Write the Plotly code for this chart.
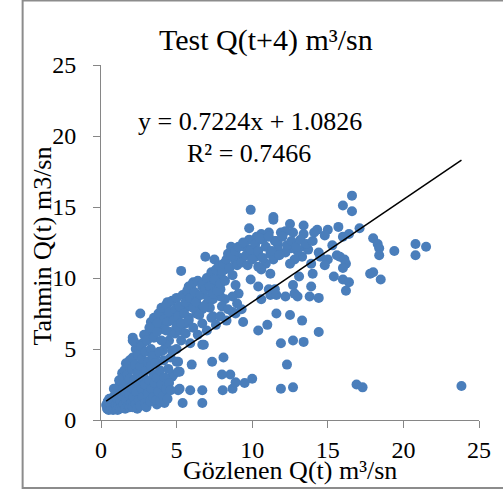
import plotly.graph_objects as go

# ---------------- data ----------------
pts_upper = [
    (16.6,15.8),(16.0,15.1),(16.6,14.7),(9.9,14.8),(11.4,14.3),(11.4,14.1),(9.8,13.5),(12.5,13.8),
    (13.4,13.7),(14.3,13.4),(15.0,13.4),(15.7,13.6),(17.1,13.5),(13.4,13.1),(14.1,13.2),(14.8,13.0),
    (16.0,12.9),(16.4,13.1),(10.6,13.1),(11.1,13.2),(10.3,12.9),(10.7,12.7),(11.5,12.6),(11.7,12.4),
    (12.7,13.2),(12.2,13.3),(11.9,13.2),
    (18.0,12.8),(18.3,12.4),(18.4,12.1),(18.4,11.6),(19.4,11.9),(20.8,12.4),(21.5,12.2),(20.8,11.6),
    (15.3,12.3),(15.6,11.6),(15.8,11.5),(16.1,11.3),(16.2,11.0),(16.0,10.7),(15.0,11.3),(14.8,10.9),
    (15.4,10.1),(16.0,9.9),(16.4,9.7),(16.2,9.1),
    (17.8,10.3),(18.0,10.4),(18.5,9.9),
    (13.9,11.0),(14.0,10.3),(13.1,10.1),(12.7,9.5),(12.8,8.9),(13.0,8.7),(13.9,9.4),(13.8,8.7),(14.4,8.6),
    (13.5,12.2),(13.7,12.0),(14.4,11.8),(14.5,11.5),(13.3,11.5),(12.8,11.3),(12.5,11.0),(13.0,11.9),
    (12.6,12.1),(12.2,11.8),(11.7,12.0),(11.2,11.7),(11.4,11.3),(10.9,11.0),(10.6,10.6),(11.2,10.3),
    (10.4,10.8),(10.2,11.5),(9.8,11.7),(9.5,12.2),(9.8,12.7),(8.6,12.2),(8.4,11.7),(9.2,11.4),(8.9,11.2),
    (8.4,10.8),(8.2,10.6),(7.9,10.2),(7.6,9.9),(7.4,9.6),(6.9,9.7),(6.7,9.4),
    (6.9,11.5),(7.5,11.3),(5.3,10.5),
    (9.9,9.9),(10.4,9.4),(11.1,9.2),(11.2,8.8),(10.6,8.5),(11.6,8.8),(12.2,8.7),(11.5,9.2),
]
pts_band = [
    (8.9,9.5),(9.1,8.9),(8.7,8.7),(8.2,8.5),(7.9,8.7),(7.4,8.5),(7.0,8.2),(6.7,7.8),(6.3,7.5),(5.8,7.2),
    (5.6,6.8),(5.3,6.3),(4.9,6.1),(4.5,5.6),(4.3,5.3),(4.1,4.9),(3.6,4.5),(3.3,4.0),(2.9,3.5),(2.5,3.1),
    (2.1,2.6),(1.65,2.1),(1.3,1.9),(1.0,1.6),(0.67,1.5),(0.45,1.3),(0.34,1.06),(0.56,0.82),
    (5.8,9.4),(6.0,8.9),(6.3,8.5),(5.8,8.0),(5.4,7.5),(4.9,7.3),(4.4,8.2),(4.3,7.8),(3.8,7.3),(3.6,6.8),
    (3.5,6.3),(3.2,5.9),(2.75,5.4),(2.5,4.9),(2.1,5.6),(1.9,4.2),(1.65,4.0),(1.4,3.3),(1.2,2.8),(2.6,7.5),
    (4.4,8.3),(6.1,9.7),(7.0,9.7),(3.6,7.0),(5.8,9.2),(5.7,8.7),(4.2,7.3),(4.8,7.2),(5.5,7.9),(6.3,8.2),
    (7.2,7.9),(7.4,7.3),(7.9,9.2),(7.9,10.2),
    (3.0,6.0),(3.3,6.9),(3.5,7.2),(3.8,7.5),(3.9,6.9),(4.0,7.9),(4.1,6.4),(4.2,7.1),(4.3,8.1),(4.4,6.9),
    (4.5,7.6),(4.6,6.2),(4.7,8.4),(4.8,7.0),(4.9,7.8),(5.0,6.6),(5.0,8.6),(5.1,7.3),(5.2,8.0),(5.3,6.8),
    (5.4,8.8),(5.5,7.5),(5.6,8.3),(5.7,9.1),(5.8,7.0),(5.9,8.6),(6.0,9.5),(6.1,7.9),(6.2,9.0),(6.3,8.3),
    (6.4,9.8),(6.5,7.4),(6.6,8.8),(6.7,9.6),(6.8,8.0),(6.9,9.2),(7.0,10.0),(7.1,8.6),(7.2,9.4),(7.3,10.4),
    (7.4,8.9),(7.5,9.9),(7.6,10.6),(7.7,9.1),(7.8,10.9),(7.9,9.6),(8.0,10.5),(8.1,11.0),(8.2,9.8),(8.3,11.3),
    (8.5,10.7),(8.6,11.6),(8.7,10.2),(8.9,11.9),(9.0,10.9),(9.1,12.2),(9.3,11.1),(9.4,12.5),(9.6,11.6),
    (9.7,10.9),(9.9,12.0),(10.0,11.3),(10.2,12.4),(10.4,11.9),(10.5,12.8),(10.7,11.4),(10.9,12.2),
    (11.1,12.9),(11.3,11.9),(11.6,12.6),(11.8,11.6),(12.0,12.9),(12.3,12.3),(12.6,12.6),(12.9,12.2),
    (13.2,12.7),(13.6,12.4),(14.0,12.6),
    (4.6,4.4),(5.0,5.0),(5.3,5.6),(5.6,6.1),(5.9,5.4),(6.1,6.5),(6.4,6.0),(6.7,6.8),(7.0,6.3),(7.3,7.2),
    (7.6,6.7),(7.9,7.3),(8.3,7.0),(8.7,7.6),(9.0,8.2),(9.3,7.8),
]
pts_lower = [
    (8.0,8.0),(8.4,7.8),(8.9,7.5),(9.4,6.9),(10.4,6.3),(11.0,6.7),(11.6,7.5),(12.5,7.4),(13.3,7.0),
    (14.4,6.2),(11.9,5.4),(12.7,5.6),(13.4,5.5),
    (6.7,5.3),(7.35,4.1),(8.1,4.4),(6.0,3.9),(5.1,4.1),(5.2,3.4),(4.7,3.05),(4.1,2.7),(3.8,2.35),(4.5,2.1),
    (5.2,2.2),(5.9,2.1),(6.7,2.1),(8.05,2.1),(8.7,2.2),(8.9,2.65),(8.55,3.2),(8.0,3.2),(9.5,2.6),(10.0,2.9),
    (11.9,2.2),(12.7,2.3),(12.3,3.9),(16.9,2.5),(17.3,2.3),(23.84,2.4),
    (5.4,1.2),(6.7,1.2),(3.7,1.1),(4.2,1.2),(3.1,1.2),(2.5,1.1),
    (2.1,5.8),(3.3,6.3),(3.7,6.8),(5.0,4.1),(4.8,3.2),(5.1,3.4),(5.1,2.1),(6.8,5.3),
]
pts_dense = [
    (0.4,0.8),(0.45,1.0),(0.5,0.7),(0.5,1.2),(0.55,0.9),(0.6,1.1),(0.6,0.75),(0.65,1.4),(0.7,0.85),
    (0.7,1.0),(0.75,1.2),(0.8,0.7),(0.8,1.6),(0.45,1.3),(0.55,1.5),
    (0.9,0.8),(0.9,1.3),(0.95,1.8),(1.0,0.9),(1.0,1.1),(1.05,2.1),(1.1,0.7),(1.1,1.5),(1.15,1.0),
    (1.2,1.9),(1.2,2.4),(1.25,0.8),(1.3,1.3),(1.3,2.7),(0.85,2.2),
    (1.4,0.9),(1.4,1.7),(1.45,2.2),(1.5,3.0),(1.5,1.1),(1.55,3.5),(1.6,0.8),(1.6,2.0),(1.65,1.4),
    (1.7,2.6),(1.75,3.2),(1.8,1.0),(1.8,4.0),(1.85,1.8),(1.9,2.9),(1.9,0.9),
    (2.0,1.2),(2.0,2.3),(2.05,3.6),(2.1,4.4),(2.1,0.9),(2.15,1.6),(2.2,2.8),(2.25,3.9),(2.3,1.1),
    (2.3,5.0),(2.35,2.0),(2.4,3.3),(2.4,0.8),(2.45,4.6),(2.5,1.4),(2.5,2.6),(2.2,5.5),
    (2.6,3.8),(2.6,1.0),(2.65,5.2),(2.7,2.2),(2.7,4.3),(2.75,1.6),(2.8,3.0),(2.85,6.0),(2.9,1.2),
    (2.9,2.5),(2.95,4.8),(3.0,3.5),(3.0,0.9),(3.05,5.6),(3.1,1.9),(3.1,4.1),
    (3.2,2.8),(3.2,6.5),(3.25,1.3),(3.3,3.8),(3.3,5.0),(3.35,2.2),(3.4,4.5),(3.45,1.6),(3.5,3.2),
    (3.5,5.8),(3.55,2.6),(3.6,4.0),(3.65,1.4),(3.7,6.2),(3.7,3.0),
    (3.8,2.0),(3.85,4.8),(3.9,1.3),(3.9,3.5),(4.0,2.5),(4.0,5.6),(4.1,1.7),(4.15,4.2),(4.2,3.0),
    (4.3,2.2),(4.3,6.3),(4.4,1.5),(4.45,3.6),(4.5,2.6),(4.6,2.1),(4.7,4.9),
]

observed = [p[0] for p in pts_upper + pts_band + pts_lower + pts_dense]
predicted = [p[1] for p in pts_upper + pts_band + pts_lower + pts_dense]

slope = 0.7224
intercept = 1.0826
r2 = 0.7466

x_ticks = [0, 5, 10, 15, 20, 25]
y_ticks = [0, 5, 10, 15, 20, 25]

title_text = "Test Q(t+4) m³/sn"
x_title = "Gözlenen Q(t) m³/sn"
y_title = "Tahmin Q(t) m3/sn"

# ---------------- figure ----------------
FONT = "Liberation Serif"
W, H = 503, 495
ML, MR, MT, MB = 101, 21, 65, 75
PW, PH = W - ML - MR, H - MT - MB

def px_x(px):
    return (px - ML) / PW

def px_y(py):
    return (H - MB - py) / PH

fig = go.Figure()
fig.add_trace(go.Scatter(
    x=observed, y=predicted, mode="markers",
    marker=dict(size=10, color="#4A7EBB", line=dict(width=0)),
    showlegend=False, hoverinfo="skip"))

x0, x1 = min(observed), max(observed)
fig.add_trace(go.Scatter(
    x=[x0, x1], y=[slope * x0 + intercept, slope * x1 + intercept],
    mode="lines", line=dict(color="black", width=1.5),
    showlegend=False, hoverinfo="skip"))

axis_common = dict(
    range=[0, 25], showgrid=False, zeroline=False, showline=True,
    linecolor="#868686", linewidth=1, ticks="outside", ticklen=7,
    tickcolor="#868686", tickwidth=1,
    tickfont=dict(family=FONT, size=24, color="black"),
)
fig.update_xaxes(tickvals=x_ticks, ticktext=[str(v) for v in x_ticks],
                 ticklabelstandoff=1, **axis_common)
fig.update_yaxes(tickvals=y_ticks, ticktext=[str(v) for v in y_ticks],
                 ticklabelstandoff=12, **axis_common)

anns = [
    dict(text=title_text, x=px_x(267), y=px_y(40), font=dict(size=30)),
    dict(text=x_title, x=px_x(291.5), y=px_y(470), font=dict(size=26)),
    dict(text=y_title, x=px_x(42), y=px_y(246), font=dict(size=26), textangle=-90),
    dict(text=f"y = {slope}x + {intercept}", x=px_x(251), y=px_y(121), font=dict(size=26)),
    dict(text=f"R² = {r2}", x=px_x(250.5), y=px_y(153), font=dict(size=26)),
]
for a in anns:
    a.update(xref="paper", yref="paper", xanchor="center", yanchor="middle",
             showarrow=False)
    a["font"].update(family=FONT, color="black")
fig.update_layout(annotations=anns)

fig.add_shape(type="rect", xref="paper", yref="paper",
              x0=px_x(22), x1=px_x(520), y0=px_y(488), y1=px_y(0.5),
              line=dict(color="#8c8c8c", width=2), fillcolor="rgba(0,0,0,0)", layer="above")

fig.update_layout(
    width=W, height=H, margin=dict(l=ML, r=MR, t=MT, b=MB),
    paper_bgcolor="white", plot_bgcolor="white",
    font=dict(family=FONT, color="black"),
)

fig.write_html("out.html", config={"displayModeBar": False})
